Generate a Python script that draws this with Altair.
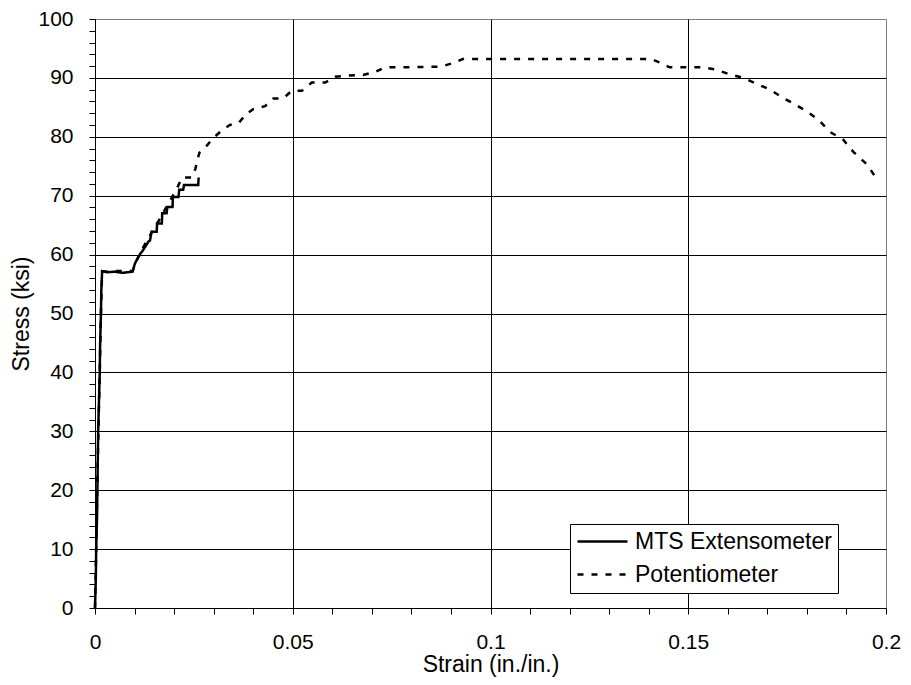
import altair as alt
import pandas as pd

# MTS Extensometer (strain in./in., stress ksi)
mts_strain = [0, 0.0002, 0.0003, 0.0005, 0.0006, 0.0007, 0.0008, 0.0010, 0.0012, 0.0013,
              0.0015, 0.0016, 0.0018, 0.003, 0.005, 0.007, 0.0095, 0.0101, 0.011, 0.0114,
              0.0122, 0.0135, 0.0139, 0.0143, 0.0156, 0.0157, 0.0169, 0.0170, 0.0181, 0.0183,
              0.0196, 0.0197, 0.0211, 0.0213, 0.0223, 0.0225, 0.0261, 0.0262]
mts_stress = [0, 5, 10, 15, 20, 25, 30, 35, 40, 45,
              50, 54, 57.2, 57.0, 57.1, 56.9, 57.1, 58.5, 59.6, 60.1,
              60.8, 62.2, 62.4, 63.9, 63.9, 65.3, 65.3, 67.0, 67.0, 68.1,
              68.1, 69.8, 69.8, 71.0, 71.0, 71.8, 71.8, 73.1]

# Potentiometer
pot_strain = [0, 0.0003, 0.0007, 0.0012, 0.0015, 0.0018, 0.005, 0.0095, 0.0105, 0.012,
              0.0135, 0.015, 0.0165, 0.018, 0.0195, 0.0207, 0.022, 0.0245, 0.0254, 0.0258,
              0.0264, 0.0284, 0.0299, 0.0321, 0.0341, 0.0364, 0.0381, 0.040, 0.043, 0.0451,
              0.0476, 0.0497, 0.0523, 0.0548, 0.0582, 0.0607, 0.064, 0.0678, 0.0708, 0.0733,
              0.0771, 0.0875, 0.0904, 0.093, 0.1407, 0.1428, 0.1453, 0.1534, 0.1571, 0.1605,
              0.1639, 0.1673, 0.1707, 0.174, 0.177, 0.180, 0.1829, 0.1859, 0.1892, 0.1918,
              0.1952, 0.1975]
pot_stress = [0, 10, 25, 40, 50, 57.1, 57.2, 57.2, 59.0, 61.0,
              62.8, 64.5, 66.2, 68.0, 69.8, 71.2, 73.1, 73.1, 74.6, 75.8,
              77.3, 78.6, 79.8, 81.1, 82.0, 82.4, 83.8, 84.7, 85.2, 86.5,
              86.5, 87.8, 87.8, 89.2, 89.2, 90.2, 90.4, 90.5, 91.0, 91.8,
              91.8, 91.9, 92.5, 93.2, 93.2, 92.6, 91.8, 91.8, 91.4, 90.6,
              90.0, 89.0, 88.0, 86.6, 85.5, 84.3, 82.9, 80.8, 79.5, 77.4,
              75.3, 73.0]

series_names = ["MTS Extensometer", "Potentiometer"]

rows = []
for i, (x, y) in enumerate(zip(mts_strain, mts_stress)):
    rows.append({"strain": x, "stress": y, "series": series_names[0], "idx": i})
for i, (x, y) in enumerate(zip(pot_strain, pot_stress)):
    rows.append({"strain": x, "stress": y, "series": series_names[1], "idx": i})
df = pd.DataFrame(rows)

FONT = "Liberation Sans"
FS = 21
TFS = 23
LFS = 23

x_ticks = [round(i * 0.01, 2) for i in range(0, 21)]
y_ticks = list(range(0, 101, 2))

x_axis = alt.Axis(
    values=x_ticks,
    title="Strain (in./in.)",
    labelExpr="(round(datum.value*1000) % 50 == 0) ? toString(round(datum.value*100)/100) : ''",
    grid=True,
    gridColor="black",
    gridWidth=1,
    gridOpacity={"condition": {"test": "round(datum.value*1000) % 50 == 0 && datum.value > 0.001 && datum.value < 0.199", "value": 1}, "value": 0},
    tickSize=6,
    tickColor="black",
    domainColor="black",
    labelPadding=17,
    labelFlush=False,
    labelOverlap=False,
    titlePadding=1,
)
y_axis = alt.Axis(
    values=y_ticks,
    title="Stress (ksi)",
    labelExpr="datum.value % 10 == 0 ? datum.label : ''",
    grid=True,
    gridColor="black",
    gridWidth=1,
    gridOpacity={"condition": {"test": "datum.value % 10 == 0 && datum.value > 0 && datum.value < 100", "value": 1}, "value": 0},
    tickSize=6,
    tickColor="black",
    domainColor="black",
    labelPadding=16,
    labelOverlap=False,
    titlePadding=4,
)

chart = alt.Chart(df).mark_line(color="black", strokeWidth=2.5).encode(
    x=alt.X("strain:Q", scale=alt.Scale(domain=[0, 0.2], nice=False, zero=False), axis=x_axis),
    y=alt.Y("stress:Q", scale=alt.Scale(domain=[0, 100], nice=False), axis=y_axis),
    strokeDash=alt.StrokeDash(
        "series:N",
        scale=alt.Scale(domain=series_names, range=[[1, 0], [6, 8]]),
        legend=alt.Legend(
            orient="none", legendX=475, legendY=505, title=None,
            strokeColor="black", fillColor="white", padding=6,
            labelFont=FONT, labelFontSize=LFS, labelColor="black", labelLimit=0,
            symbolType="M-2,0H8", symbolSize=100, symbolStrokeWidth=2.5,
            symbolStrokeColor="black", symbolFillColor="transparent",
            labelOffset=36, rowPadding=9,
            cornerRadius=0,
        ),
    ),
    order=alt.Order("idx:Q"),
    detail="series:N",
).properties(
    width=791, height=589,
    padding={"left": 87, "top": 11, "right": 17, "bottom": 75},
    autosize="none",
).configure_view(
    stroke="#808080", strokeWidth=1,
).configure_axis(
    labelFont=FONT, labelFontSize=FS, labelColor="black",
    titleFont=FONT, titleFontSize=TFS, titleColor="black", titleFontWeight="normal",
)

chart.save("out.html", embed_options={"renderer": "svg", "actions": False})
